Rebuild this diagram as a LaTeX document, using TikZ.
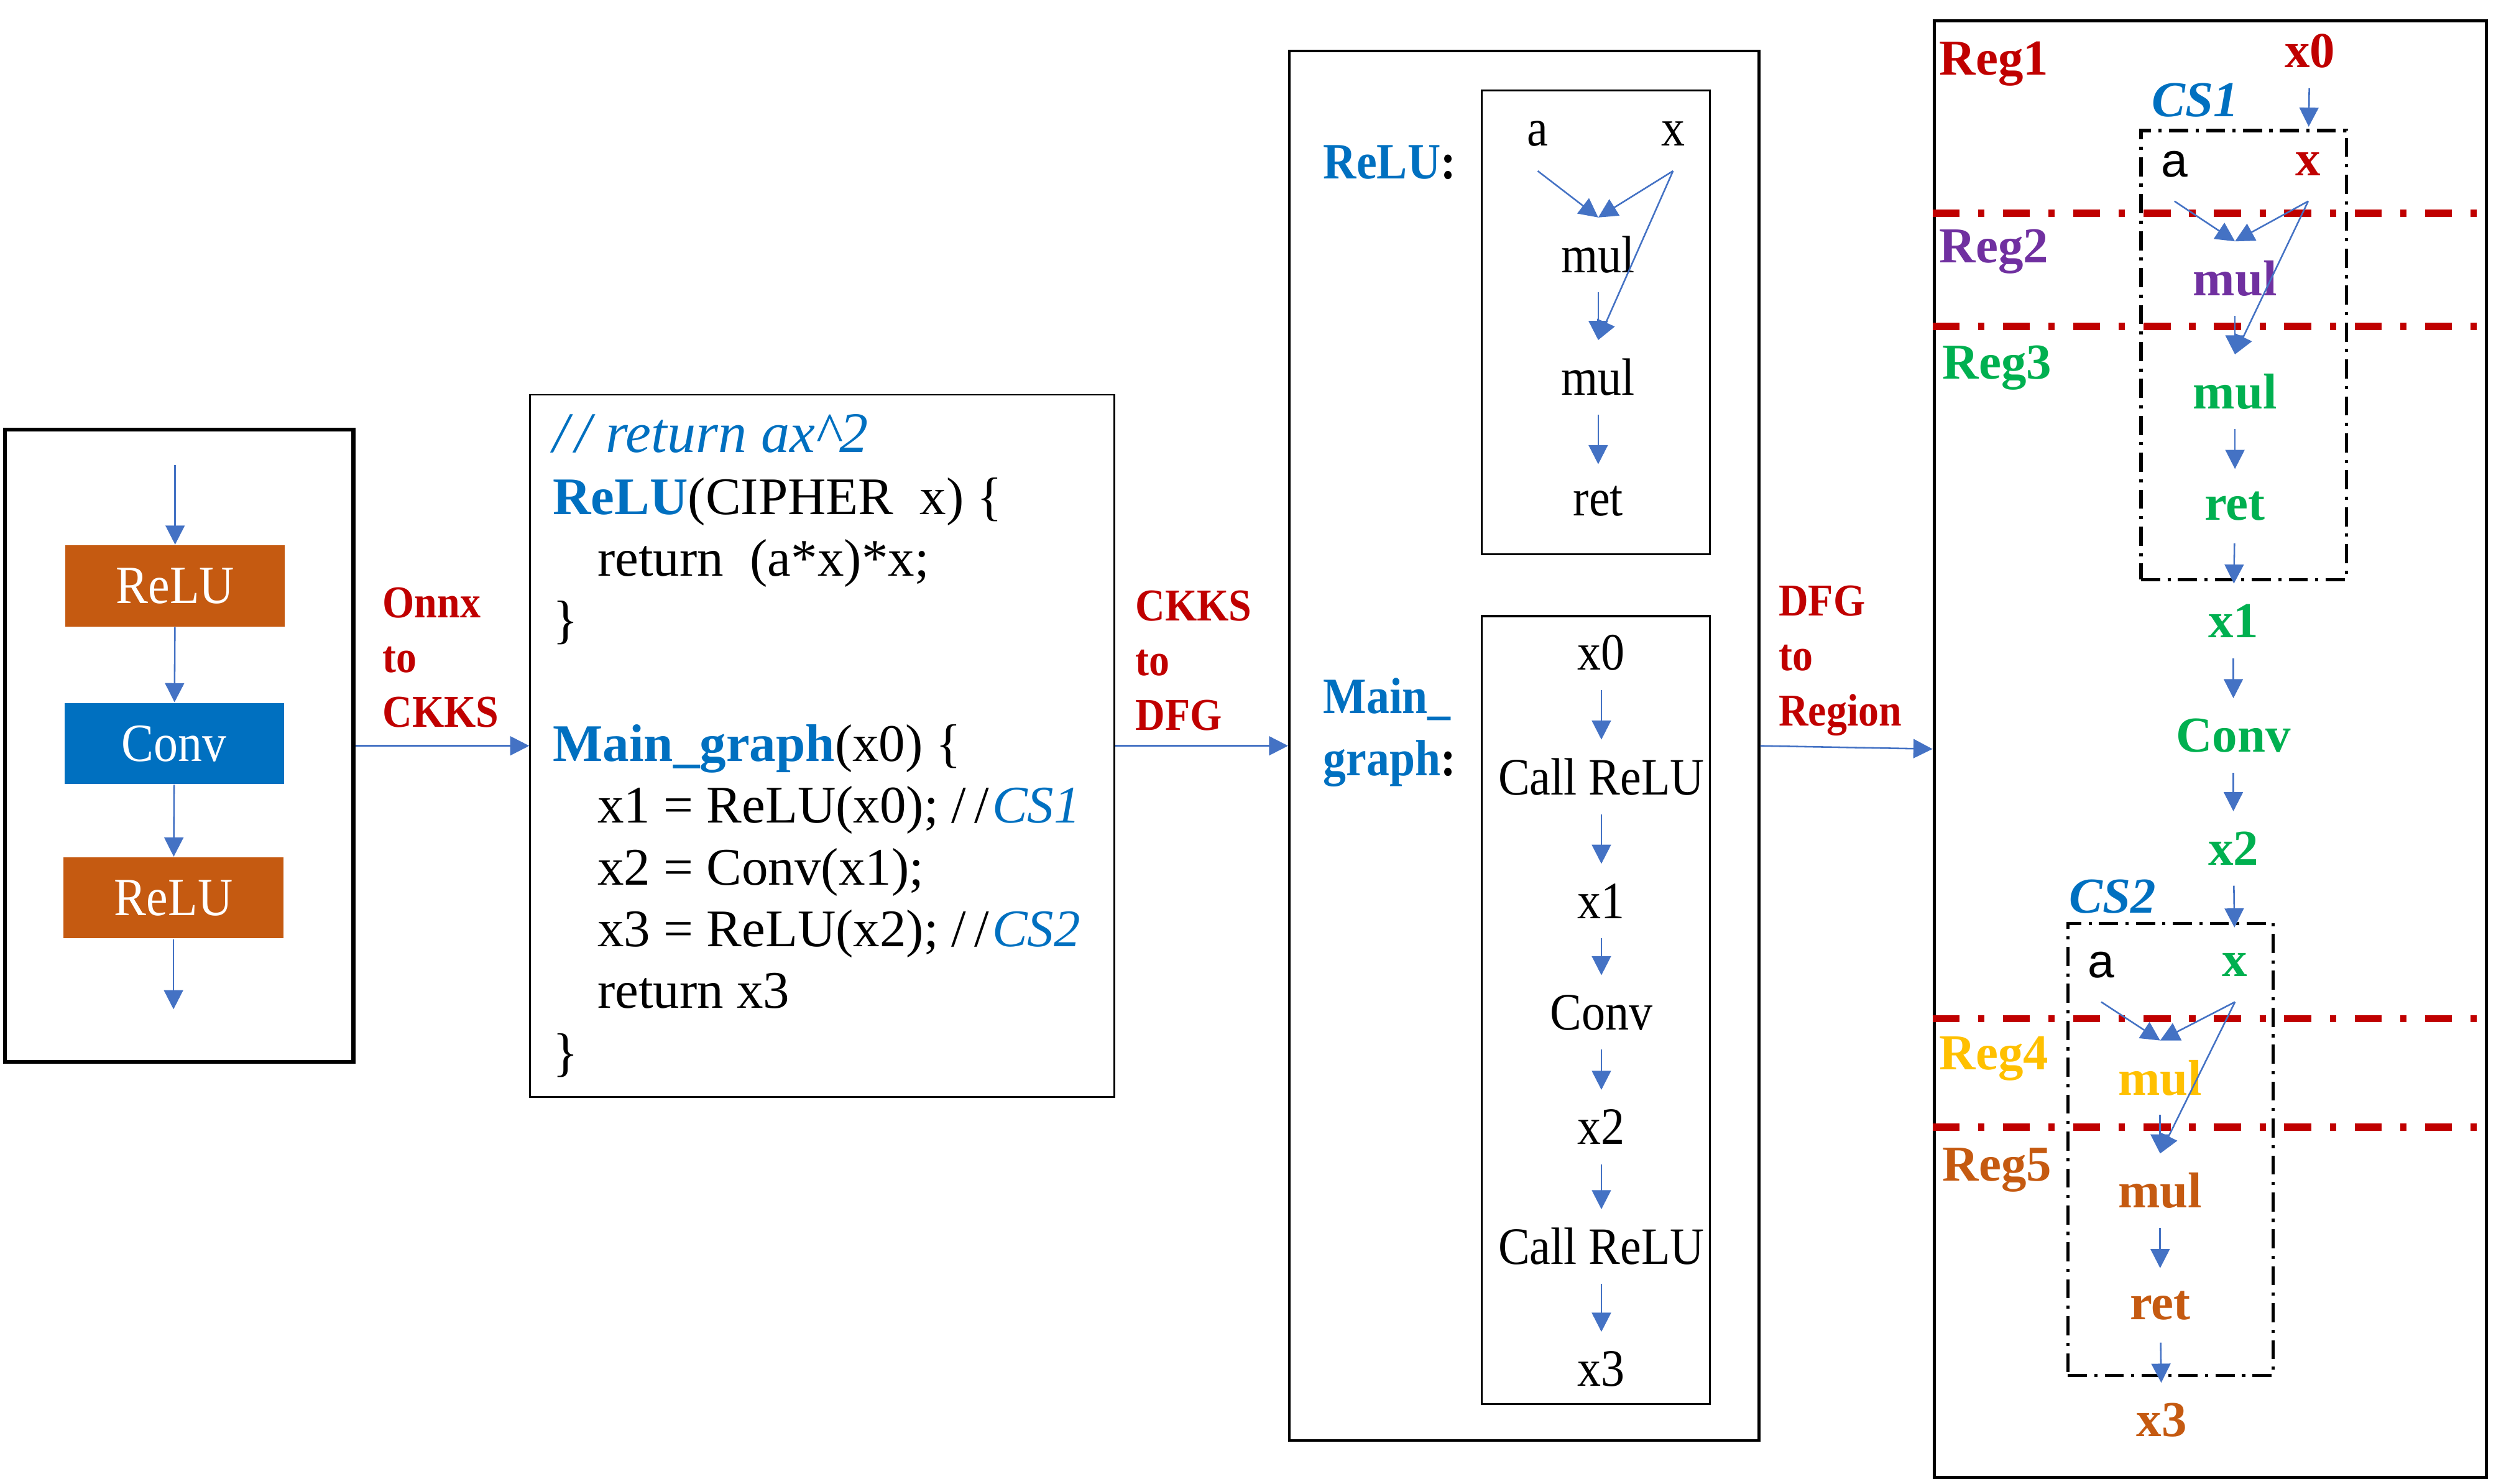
\documentclass[tikz,border=0pt]{standalone}
\usepackage{fontspec}
\setmainfont{Liberation Serif}
\setsansfont{Liberation Sans}
\newfontfamily\narrowserif[FakeStretch=0.9]{Liberation Serif}
\usetikzlibrary{arrows.meta, fit}

\definecolor{arrowblue}{HTML}{4472C4}
\definecolor{codeblue}{HTML}{0070C0}
\definecolor{darkred}{HTML}{C00000}
\definecolor{regpurple}{HTML}{7030A0}
\definecolor{reggreen}{HTML}{00B050}
\definecolor{reggold}{HTML}{FFC000}
\definecolor{regorange}{HTML}{C55A11}

\begin{document}
\begin{tikzpicture}[x=0.5pt, y=-0.5pt,
    panel/.style = {draw, inner sep=0pt},
    flow/.style = {draw=arrowblue, line width=0.5pt, -{Triangle[length=6pt, width=6pt]}},
    nnlayer/.style = {minimum width=69pt, minimum height=25.5pt, inner sep=0pt, text=white, font=\narrowserif\fontsize{16.9}{20}\selectfont},
    passlabel/.style = {anchor=west, align=left, inner sep=0pt, text=darkred, font=\narrowserif\bfseries\fontsize{14.3}{17.25}\selectfont},
    listing/.style = {anchor=north west, align=left, inner sep=0pt, font=\fontsize{16.6}{19.4}\selectfont},
    fname/.style = {anchor=west, align=left, inner sep=0pt, font=\narrowserif\bfseries\fontsize{16}{19.5}\selectfont},
    op/.style = {minimum height=23pt, inner sep=0pt, font=\narrowserif\fontsize{16.5}{19}\selectfont},
    regop/.style = {minimum height=23pt, inner sep=0pt, font=\bfseries\fontsize{15.8}{18}\selectfont},
    argnode/.style = {minimum height=23pt, inner sep=0pt, font=\sffamily\fontsize{15}{18}\selectfont},
    reglabel/.style = {anchor=west, inner sep=0pt, font=\bfseries\fontsize{15.8}{18}\selectfont},
    cslabel/.style = {inner sep=0pt, text=codeblue, font=\bfseries\itshape\fontsize{15.8}{18}\selectfont},
    csbox/.style = {draw, inner sep=0pt, line width=1pt, dash pattern=on 6pt off 2.3pt on 1pt off 2.3pt},
    regline/.style = {draw=darkred, line width=2.2pt, dash pattern=on 8.5pt off 5.8pt on 2pt off 5.8pt}]

    \useasboundingbox (0,0) rectangle (1568,932.2);

    % Onnx model
    \node[panel, line width=1.2pt, fit={(3,270) (222,667)}] (onnx) {};
    \coordinate (onnxin) at (110,292);
    \node[nnlayer, fill=regorange] (relu1) at (110,368) {ReLU};
    \node[nnlayer, fill=codeblue] (conv) at (109.5,467) {Conv};
    \node[nnlayer, fill=regorange] (relu2) at (109,564) {ReLU};
    \coordinate (onnxout) at (109,634);

    \draw[flow] (onnxin) -- (relu1);
    \draw[flow] (relu1) -- (conv);
    \draw[flow] (conv) -- (relu2);
    \draw[flow] (relu2) -- (onnxout);

    % CKKS program
    \node[panel, line width=0.5pt, fit={(333,248) (700,689)}] (ckks) {};
    \node[listing] (src) at (347,260) {%
        {\fontsize{18}{19.4}\selectfont\itshape\color{codeblue}/\kern2pt/ return ax\textasciicircum 2}\\
        {\bfseries\color{codeblue}ReLU}(CIPHER~ x) \{\\
        \hspace*{14pt}return~ (a*x)*x;\\
        \}\\[19.4pt]
        {\bfseries\color{codeblue}Main\_graph}(x0) \{\\
        \hspace*{14pt}x1 = ReLU(x0); /\kern2.5pt/\kern1pt{\itshape\color{codeblue}CS1}\\
        \hspace*{14pt}x2 = Conv(x1);\\
        \hspace*{14pt}x3 = ReLU(x2); /\kern2.5pt/\kern1pt{\itshape\color{codeblue}CS2}\\
        \hspace*{14pt}return x3\\
        \}};

    % DFG
    \node[panel, line width=0.8pt, fit={(810,32) (1105,905)}] (dfg) {};
    \node[panel, line width=0.6pt, fit={(931,57) (1074,348)}] (relubody) {};
    \node[panel, line width=0.6pt, fit={(931,387) (1074,882)}] (mainbody) {};
    \node[fname] (relusig) at (831,102) {\textcolor{codeblue}{ReLU}:};
    \node[fname] (mainsig) at (831,460) {\textcolor{codeblue}{Main\_}\\\textcolor{codeblue}{graph}:};

    \node[op] (a) at (966,84) {a};
    \node[op] (x) at (1051,84) {x};
    \node[op] (mul1) at (1004,160) {mul};
    \node[op] (mul2) at (1004,237) {mul};
    \node[op] (ret) at (1004,315) {ret};

    \draw[flow] (a.south) -- (mul1.north);
    \draw[flow] (x.south) -- (mul1.north);
    \draw[flow] (x.south) -- (mul2.north);
    \draw[flow] (mul1) -- (mul2);
    \draw[flow] (mul2) -- (ret);

    \node[op] (g0) at (1006,410) {x0};
    \node[op] (call1) at (1006,488) {Call ReLU};
    \node[op] (g1) at (1006,566) {x1};
    \node[op] (gconv) at (1006,636) {Conv};
    \node[op] (g2) at (1006,708) {x2};
    \node[op] (call2) at (1006,783) {Call ReLU};
    \node[op] (g3) at (1006,860) {x3};

    \draw[flow] (g0) -- (call1);
    \draw[flow] (call1) -- (g1);
    \draw[flow] (g1) -- (gconv);
    \draw[flow] (gconv) -- (g2);
    \draw[flow] (g2) -- (call2);
    \draw[flow] (call2) -- (g3);

    % Regions
    \node[panel, line width=1pt, fit={(1215,13) (1562,928)}] (region) {};
    \node[csbox, fit={(1345,82) (1474,364)}] (cs1) {};
    \node[csbox, fit={(1299,580) (1428,864)}] (cs2) {};
    \foreach \y in {134,205,640,708}
        \draw[regline] (region.west |- 0,\y) -- (region.east |- 0,\y);

    \node[cslabel] (cs1lbl) at (1379,63) {CS1};
    \node[cslabel] (cs2lbl) at (1327,563) {CS2};
    \node[reglabel, text=darkred] (reg1) at (1218,40) {Reg1};
    \node[reglabel, text=regpurple] (reg2) at (1218,158) {Reg2};
    \node[reglabel, text=reggreen] (reg3) at (1220,231) {Reg3};
    \node[reglabel, text=reggold] (reg4) at (1218,665) {Reg4};
    \node[reglabel, text=regorange] (reg5) at (1220,735) {Reg5};

    \node[regop, text=darkred] (r0) at (1451,32) {x0};
    \node[argnode] (ra1) at (1366,103) {a};
    \node[regop, text=darkred] (rx1) at (1450,103) {x};
    \node[regop, text=regpurple] (rm1) at (1404,175) {mul};
    \node[regop, text=reggreen] (rm2) at (1404,246) {mul};
    \node[regop, text=reggreen] (rr1) at (1404,318) {ret};
    \node[regop, text=reggreen] (r1) at (1403,390) {x1};
    \node[regop, text=reggreen] (rconv) at (1403,462) {Conv};
    \node[regop, text=reggreen] (r2) at (1403,533) {x2};
    \node[argnode] (ra2) at (1320,606) {a};
    \node[regop, text=reggreen] (rx2) at (1404,606) {x};
    \node[regop, text=reggold] (rm3) at (1357,677) {mul};
    \node[regop, text=regorange] (rm4) at (1357,748) {mul};
    \node[regop, text=regorange] (rr2) at (1357,820) {ret};
    \node[regop, text=regorange] (r3) at (1358,892) {x3};

    \draw[flow] (r0) -- (rx1);
    \draw[flow] (ra1.south) -- (rm1.north);
    \draw[flow] (rx1.south) -- (rm1.north);
    \draw[flow] (rx1.south) -- (rm2.north);
    \draw[flow] (rm1) -- (rm2);
    \draw[flow] (rm2) -- (rr1);
    \draw[flow] (rr1) -- (r1);
    \draw[flow] (r1) -- (rconv);
    \draw[flow] (rconv) -- (r2);
    \draw[flow] (r2) -- (rx2);
    \draw[flow] (ra2.south) -- (rm3.north);
    \draw[flow] (rx2.south) -- (rm3.north);
    \draw[flow] (rx2.south) -- (rm4.north);
    \draw[flow] (rm3) -- (rm4);
    \draw[flow] (rm4) -- (rr2);
    \draw[flow] (rr2) -- (r3);

    % passes
    \node[passlabel] (pass1) at (240,413) {Onnx\\to\\CKKS};
    \node[passlabel] (pass2) at (713,415) {CKKS\\to\\DFG};
    \node[passlabel] (pass3) at (1117,415) {DFG\\to\\Region};

    \draw[flow] (onnx.east) -- (ckks.west);
    \draw[flow] (ckks.east) -- (dfg.west);
    \draw[flow] (dfg.east) -- (region.west);
\end{tikzpicture}
\end{document}
